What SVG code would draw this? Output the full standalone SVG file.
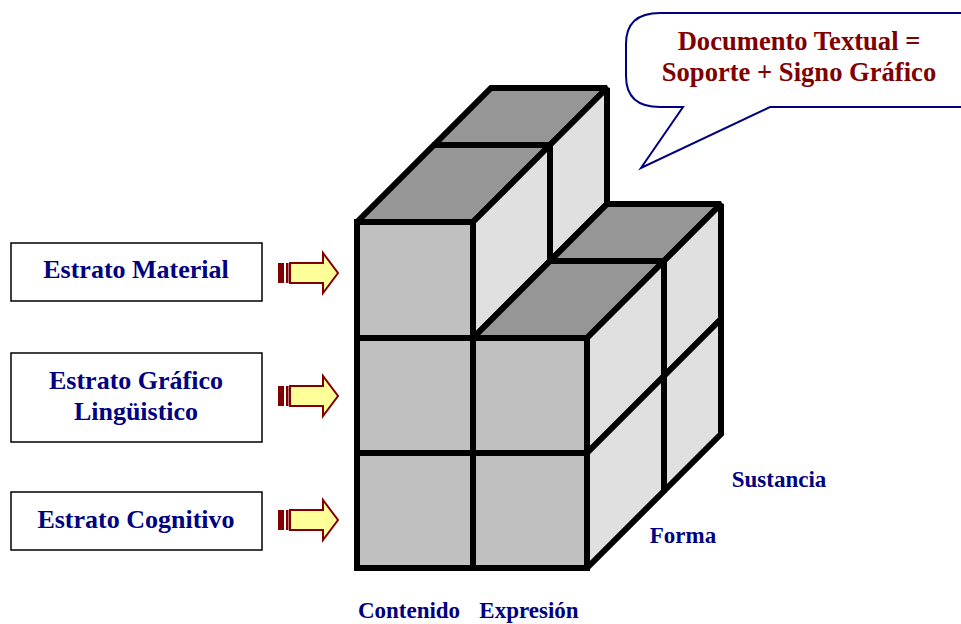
<svg xmlns="http://www.w3.org/2000/svg" width="961" height="624" viewBox="0 0 961 624">
<defs>
<style>
.front{fill:#C0C0C0;stroke:#000;stroke-width:6;stroke-linejoin:miter;stroke-miterlimit:2}
.top{fill:#969696;stroke:#000;stroke-width:6;stroke-linejoin:miter;stroke-miterlimit:2}
.side{fill:#E0E0E0;stroke:#000;stroke-width:6;stroke-linejoin:miter;stroke-miterlimit:2}
.box{fill:#fff;stroke:#000;stroke-width:1.5}
.lbl{font-family:"Liberation Serif","Times New Roman",serif;font-weight:bold;fill:#000080;text-anchor:middle}
.red{font-family:"Liberation Serif","Times New Roman",serif;font-weight:bold;fill:#800000;text-anchor:middle}
.arrow{fill:#FFFF99;stroke:#800000;stroke-width:2;stroke-linejoin:miter}
.stripe{fill:#800000}
</style>
<g id="arrowShape">
<rect class="stripe" x="278" y="-10" width="6" height="20"/>
<rect class="stripe" x="286" y="-10" width="2.5" height="20"/>
<polygon class="arrow" points="290,-10 323,-10 323,-20 338,0 323,20 323,10 290,10"/>
</g>
</defs>

<g id="bubble">
<path d="M660,13 L990,13 L990,107 L770,107 L641,168 L683,107 L660,107 Q626,107 626,76 L626,44 Q626,13 660,13 Z" fill="#fff" stroke="#000080" stroke-width="2" stroke-linejoin="miter"/>
<text class="red" x="799" y="50" font-size="26.6">Documento Textual =</text>
<text class="red" x="799" y="81" font-size="26.6">Soporte + Signo Gráfico</text>
</g>

<g id="cube">
<polygon class="top" points="434,145 550,145 607,88 491,88"/>
<polygon class="top" points="357,222 473,222 550,145 434,145"/>
<polygon class="side" points="550,145 607,88 607,204 550,261"/>
<polygon class="side" points="473,222 550,145 550,261 473,338"/>
<polygon class="top" points="550,261 664,261 721,204 607,204"/>
<polygon class="top" points="473,338 587,338 664,261 550,261"/>
<polygon class="side" points="664,261 721,204 721,319 664,376"/>
<polygon class="side" points="587,338 664,261 664,376 587,453"/>
<polygon class="side" points="664,376 721,319 721,434 664,491"/>
<polygon class="side" points="587,453 664,376 664,491 587,568"/>
<rect class="front" x="357" y="222" width="116" height="116"/>
<rect class="front" x="357" y="338" width="116" height="115"/>
<rect class="front" x="357" y="453" width="116" height="115"/>
<rect class="front" x="473" y="338" width="114" height="115"/>
<rect class="front" x="473" y="453" width="114" height="115"/>
</g>

<g id="estrato-material">
<rect class="box" x="11" y="243" width="251" height="58"/>
<text class="lbl" x="136" y="278" font-size="26">Estrato Material</text>
</g>
<g id="estrato-grafico">
<rect class="box" x="11" y="353" width="251" height="89"/>
<text class="lbl" x="136" y="389" font-size="26">Estrato Gráfico</text>
<text class="lbl" x="136" y="420" font-size="26">Lingüistico</text>
</g>
<g id="estrato-cognitivo">
<rect class="box" x="11" y="492" width="251" height="58"/>
<text class="lbl" x="136" y="528" font-size="26">Estrato Cognitivo</text>
</g>

<g id="connectors">
<use href="#arrowShape" transform="translate(0,273)"/>
<use href="#arrowShape" transform="translate(0,396)"/>
<use href="#arrowShape" transform="translate(0,520)"/>
</g>

<g id="labels">
<text class="lbl" x="779" y="487" font-size="23">Sustancia</text>
<text class="lbl" x="683" y="543" font-size="23">Forma</text>
<text class="lbl" x="409" y="618" font-size="23">Contenido</text>
<text class="lbl" x="529" y="618" font-size="23">Expresión</text>
</g>
</svg>
